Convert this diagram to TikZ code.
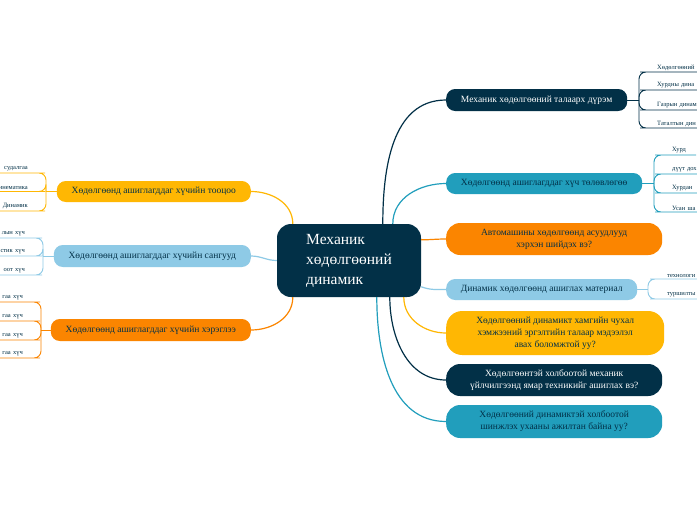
\documentclass[tikz,border=0pt]{standalone}
\usepackage{fontspec}
\setmainfont{Liberation Serif}
\usepackage{xcolor}
\usepackage{tikz}
\usetikzlibrary{shapes,arrows,positioning,calc}

\definecolor{hubnavy}{HTML}{023047}
\definecolor{seablue}{HTML}{219EBC}
\definecolor{skyblue}{HTML}{8ECAE6}
\definecolor{sunyellow}{HTML}{FFB703}
\definecolor{deeporange}{HTML}{FB8500}

\begin{document}
\begin{tikzpicture}[x=1pt,y=1pt]
  % Define styles
  \tikzstyle{hub} = [rectangle, fill=hubnavy, text=white, rounded corners=14pt, minimum width=144pt, minimum height=73pt, align=left, font=\fontsize{15.5}{20}\selectfont]
  \tikzstyle{branch} = [rectangle, rounded corners=9pt, inner sep=2pt, align=center, font=\fontsize{9.5}{12}\selectfont, text=hubnavy]
  \tikzstyle{limb} = [line width=1.2pt]
  \tikzstyle{twig} = [line width=0.9pt, rounded corners=7pt]
  \tikzstyle{leafR} = [anchor=south west, inner xsep=10pt, inner ysep=1.5pt, align=left, font=\fontsize{6.5}{8}\selectfont, text=hubnavy]
  \tikzstyle{leafL} = [anchor=south east, inner xsep=10pt, inner ysep=1.5pt, align=right, font=\fontsize{6.5}{8}\selectfont, text=hubnavy]
  \tikzstyle{cut} = [text width=50pt]

  % Canvas
  \path[use as bounding box, fill=white] (0,0) rectangle (697,-520);

  % Central topic
  \node [hub] (hub) at (349,-260.5) {Механик\\хөдөлгөөний\\динамик};

  % Right branches
  \node [branch, anchor=west, fill=hubnavy, text=white, minimum width=181pt, minimum height=22pt] (rule) at (446,-100) {Механик хөдөлгөөний талаарх дүрэм};
  \node [branch, anchor=west, fill=seablue, minimum width=196pt, minimum height=21pt] (plan) at (446,-183.5) {Хөдөлгөөнд ашиглагддаг хүч төлөвлөгөө};
  \node [branch, anchor=west, fill=deeporange, minimum width=216pt, minimum height=32pt, rounded corners=14pt] (car) at (446,-239) {Автомашины хөдөлгөөнд асуудлууд\\хэрхэн шийдэх вэ?};
  \node [branch, anchor=west, fill=skyblue, minimum width=191pt, minimum height=21pt] (stuff) at (446,-289.5) {Динамик хөдөлгөөнд ашиглах материал};
  \node [branch, anchor=west, fill=sunyellow, minimum width=218pt, minimum height=44pt, rounded corners=16pt] (spin) at (446,-333) {Хөдөлгөөний динамикт хамгийн чухал\\хэмжээний эргэлтийн талаар мэдээлэл\\авах боломжтой уу?};
  \node [branch, anchor=west, fill=hubnavy, text=white, minimum width=216pt, minimum height=32pt, rounded corners=14pt] (service) at (446,-380) {Хөдөлгөөнтэй холбоотой механик\\үйлчилгээнд ямар техникийг ашиглах вэ?};
  \node [branch, anchor=west, fill=seablue, minimum width=216pt, minimum height=33pt, rounded corners=14pt] (staff) at (446,-421.5) {Хөдөлгөөний динамиктэй холбоотой\\шинжлэх ухааны ажилтан байна уу?};

  % Left branches
  \node [branch, anchor=east, fill=sunyellow, minimum width=194pt, minimum height=21pt] (calc) at (251,-191.5) {Хөдөлгөөнд ашиглагддаг хүчийн тооцоо};
  \node [branch, anchor=east, fill=skyblue, minimum width=197pt, minimum height=22pt] (store) at (251,-256) {Хөдөлгөөнд ашиглагддаг хүчийн сангууд};
  \node [branch, anchor=east, fill=deeporange, minimum width=200pt, minimum height=22pt] (use) at (251,-330) {Хөдөлгөөнд ашиглагддаг хүчийн хэрэглээ};

  % Hub to branches
  \draw [limb, hubnavy] ([xshift=106pt]hub.north west) to[out=90, in=180] (rule.west);
  \draw [limb, seablue] ([xshift=116pt]hub.north west) to[out=90, in=180] (plan.west);
  \draw [limb, deeporange] ([yshift=-16pt]hub.north east) to[out=0, in=180] (car.west);
  \draw [limb, skyblue] (hub.-20) to[out=-20, in=180] (stuff.west);
  \draw [limb, sunyellow] ([xshift=127pt]hub.south west) to[out=-90, in=180] (spin.west);
  \draw [limb, hubnavy] ([xshift=113pt]hub.south west) to[out=-90, in=180] (service.west);
  \draw [limb, seablue] ([xshift=100pt]hub.south west) to[out=-90, in=180] (staff.west);
  \draw [limb, sunyellow] ([xshift=16pt]hub.north west) to[out=90, in=0] (calc.east);
  \draw [limb, skyblue] (hub.west) to[out=180, in=0] (store.east);
  \draw [limb, deeporange] ([xshift=16pt]hub.south west) to[out=-90, in=0] (use.east);

  % Leaves of the rule branch
  \node [leafR, cut] (ruleA) at (647,-72) {Хөдөлгөөний};
  \node [leafR, cut] (ruleB) at (647,-90) {Хурдны дина};
  \node [leafR, cut] (ruleC) at (647,-110) {Газрын динам};
  \node [leafR, cut] (ruleD) at (647,-128) {Таталтын дин};
  \coordinate (ruleknot) at (639,-100);
  \draw [twig, hubnavy] (rule.east) -- (ruleknot);
  \draw [twig, hubnavy] (ruleknot) |- (ruleA.south west) -- (ruleA.south east);
  \draw [twig, hubnavy] (ruleknot) |- (ruleB.south west) -- (ruleB.south east);
  \draw [twig, hubnavy] (ruleknot) |- (ruleC.south west) -- (ruleC.south east);
  \draw [twig, hubnavy] (ruleknot) |- (ruleD.south west) -- (ruleD.south east);

  % Leaves of the plan branch
  \node [leafR] (planA) at (662,-155) {Хурд};
  \node [leafR, cut] (planB) at (662,-174) {дүүт дох};
  \node [leafR, cut] (planC) at (662,-193) {Хурдан};
  \node [leafR, cut] (planD) at (662,-212) {Усан ша};
  \coordinate (planknot) at (654,-183.5);
  \draw [twig, seablue] (plan.east) -- (planknot);
  \draw [twig, seablue] (planknot) |- (planA.south west) -- (planA.south east);
  \draw [twig, seablue] (planknot) |- (planB.south west) -- (planB.south east);
  \draw [twig, seablue] (planknot) |- (planC.south west) -- (planC.south east);
  \draw [twig, seablue] (planknot) |- (planD.south west) -- (planD.south east);

  % Leaves of the material branch
  \node [leafR, cut] (stuffA) at (657,-279) {технологи};
  \node [leafR, cut] (stuffB) at (657,-299) {туршилты};
  \coordinate (stuffknot) at (648,-289.5);
  \draw [twig, skyblue] (stuff.east) -- (stuffknot);
  \draw [twig, skyblue] (stuffknot) |- (stuffA.south west) -- (stuffA.south east);
  \draw [twig, skyblue] (stuffknot) |- (stuffB.south west) -- (stuffB.south east);

  % Leaves of the calc branch
  \node [leafL, cut] (calcA) at (38,-173) {судалгаа};
  \node [leafL, cut] (calcB) at (38,-191.5) {инематика};
  \node [leafL, cut] (calcC) at (38,-211) {Динамик};
  \coordinate (calcknot) at (46,-191.5);
  \draw [twig, sunyellow] (calc.west) -- (calcknot);
  \draw [twig, sunyellow] (calcknot) |- (calcA.south east) -- (calcA.south west);
  \draw [twig, sunyellow] (calcknot) |- (calcB.south east) -- (calcB.south west);
  \draw [twig, sunyellow] (calcknot) |- (calcC.south east) -- (calcC.south west);

  % Leaves of the store branch
  \node [leafL, cut] (storeA) at (35,-238) {лын хүч};
  \node [leafL, cut] (storeB) at (35,-256) {стик хүч};
  \node [leafL, cut] (storeC) at (35,-275) {оот хүч};
  \coordinate (storeknot) at (43,-256);
  \draw [twig, skyblue] (store.west) -- (storeknot);
  \draw [twig, skyblue] (storeknot) |- (storeA.south east) -- (storeA.south west);
  \draw [twig, skyblue] (storeknot) |- (storeB.south east) -- (storeB.south west);
  \draw [twig, skyblue] (storeknot) |- (storeC.south east) -- (storeC.south west);

  % Leaves of the use branch
  \node [leafL, cut] (useA) at (33,-302) {гаа хүч};
  \node [leafL, cut] (useB) at (33,-321) {гаа хүч};
  \node [leafL, cut] (useC) at (33,-340) {гаа хүч};
  \node [leafL, cut] (useD) at (33,-358) {гаа хүч};
  \coordinate (useknot) at (41,-330);
  \draw [twig, deeporange] (use.west) -- (useknot);
  \draw [twig, deeporange] (useknot) |- (useA.south east) -- (useA.south west);
  \draw [twig, deeporange] (useknot) |- (useB.south east) -- (useB.south west);
  \draw [twig, deeporange] (useknot) |- (useC.south east) -- (useC.south west);
  \draw [twig, deeporange] (useknot) |- (useD.south east) -- (useD.south west);

\end{tikzpicture}
\end{document}
